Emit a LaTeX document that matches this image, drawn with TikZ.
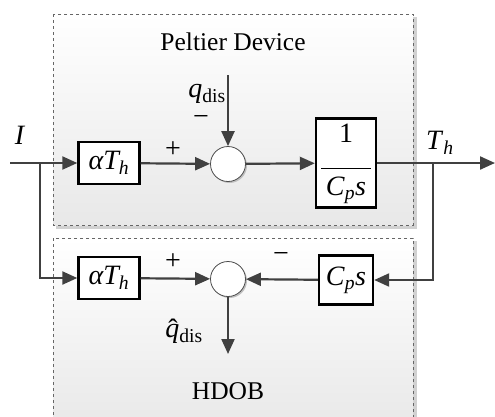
\documentclass[tikz,border=0pt]{standalone}
\usepackage{fontspec}
\setmainfont{Liberation Serif}
\usetikzlibrary{arrows.meta,shadows}
\newcommand{\qhat}{\makebox[0pt][l]{\hspace{3pt}\raisebox{-1.5pt}{\char"02C6}}\textit{q}}
\begin{document}
\begin{tikzpicture}[x=1pt,y=-1pt,
  wire/.style={draw=black!75, line width=2.2pt, -{Triangle[length=15pt,width=13pt]}},
  blk/.style={draw=black, line width=2.4pt, fill=white, inner sep=0pt, font=\fontsize{28}{32}\selectfont},
  sumc/.style={circle, draw=black!70, line width=0.8pt, fill=white, minimum size=35pt, inner sep=0pt,
    drop shadow={shadow xshift=1.5pt, shadow yshift=-1.5pt, fill=black!25, opacity=1}},
  frame/.style={draw=black!60, dashed, line width=0.7pt, top color=white, bottom color=black!9},
  fshadow/.style={fill=black!18, draw=none},
  lbl/.style={font=\fontsize{28}{32}\selectfont, inner sep=0pt},
  ttl/.style={font=\fontsize{25.5}{30}\selectfont, inner sep=0pt},
]
\useasboundingbox (0,0) rectangle (495,416);
% frames
\fill[fshadow] (56,17) rectangle (417,229);
\path[frame] (53,14) rectangle (413,225);
\fill[fshadow] (56,241) rectangle (417,430);
\path[frame] (53,238) rectangle (413,430);
% blocks
\node[blk, minimum width=61pt, minimum height=42pt] (a1) at (109,163) {\itshape α\textit{T}\textsubscript{\textit{h}}};
\node[sumc] (s1) at (228,164) {};
\node[blk, minimum width=60pt, minimum height=89pt] (g) at (346,163)
  {\begin{tabular}{@{}c@{}}1\\[-6pt]\rule{50pt}{1.3pt}\\[-5pt]\textit{C}\textsubscript{\textit{p}}\textit{s}\end{tabular}};
\node[blk, minimum width=61pt, minimum height=42pt] (a2) at (109,278) {\itshape α\textit{T}\textsubscript{\textit{h}}};
\node[sumc] (s2) at (228,279) {};
\node[blk, minimum width=54pt, minimum height=49pt] (c) at (346,280) {\textit{C}\textsubscript{\textit{p}}\textit{s}};
% coordinates
\coordinate (in) at (10,163);
\coordinate (br1) at (40,163);
\coordinate (out) at (495,163);
\coordinate (br2) at (433,163);
\coordinate (qin) at (228,75);
\coordinate (qout) at (228,354);
% wires
\draw[wire] (in) -- (a1);
\draw[wire] (br1) |- (a2.west);
\draw[wire] (a1) -- (s1);
\draw[wire] (qin) -- (s1);
\draw[wire] (s1) -- (g);
\draw[wire] (g) -- (out);
\draw[wire] (br2) |- (c.east);
\draw[wire] (c) -- (s2);
\draw[wire] (a2) -- (s2);
\draw[wire] (s2) -- (qout);
% labels
\node[ttl] (t1) at (233,42) {Peltier Device};
\node[ttl] (t2) at (228,391) {HDOB};
\node[lbl] (lI) at (20,135) {\textit{I}};
\node[lbl] (lT) at (440,143) {\textit{T}\textsubscript{\textit{h}}};
\node[lbl] (lq) at (207,94) {\textit{q}\textsubscript{dis}};
\node[lbl] (lq2) at (184,331) {\qhat\textsubscript{dis}};
\node[lbl] (m1) at (201,120) {−};
\node[lbl] (p1) at (173,150) {+};
\node[lbl] (p2) at (173,262) {+};
\node[lbl] (m2) at (281,257) {−};
\end{tikzpicture}
\end{document}
